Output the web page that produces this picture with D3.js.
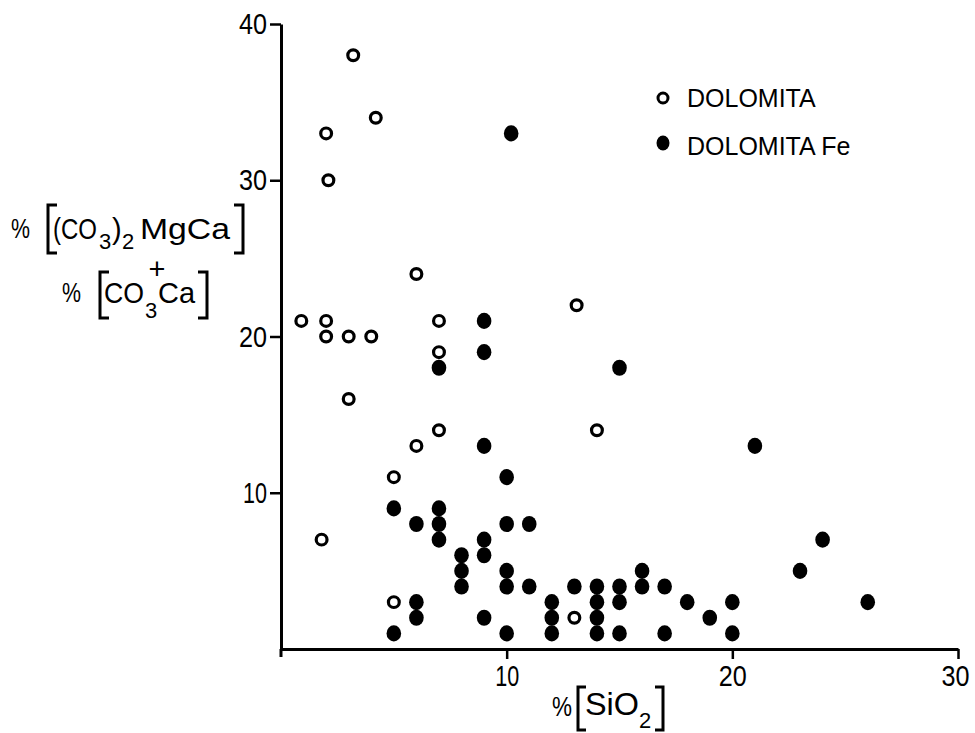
<!DOCTYPE html>
<html>
<head>
<meta charset="utf-8">
<script src="https://cdn.jsdelivr.net/npm/d3@7"></script>
<style>
  body { margin: 0; background: #fff; }
  text { font-family: "Liberation Sans", "DejaVu Sans", sans-serif; fill: #000; }
  .axis text { font-family: "Liberation Sans", sans-serif; font-size: 30px; }
  .axis path, .axis line { stroke: #000; }
</style>
</head>
<body>
<svg id="chart"></svg>
<script>
// % SiO2 vs % carbonate
let dolomita = [
    [3.2, 38], [4.2, 34], [2, 33], [2.1, 30], [6, 24], [13.1, 22],
    [0.9, 21], [2, 21], [7, 21], [2, 20], [3, 20], [4, 20], [7, 19],
    [3, 16], [7, 14], [14, 14], [6, 13], [5, 11], [1.8, 7], [5, 3], [13, 2]
];
let dolomitaFe = [
    [10.2, 33], [9, 21], [9, 19], [7, 18], [15, 18], [9, 13], [21, 13], [10, 11],
    [5, 9], [7, 9], [6, 8], [7, 8], [10, 8], [11, 8], [7, 7], [9, 7], [24, 7],
    [8, 6], [9, 6], [8, 5], [10, 5], [16, 5], [23, 5],
    [8, 4], [10, 4], [11, 4], [13, 4], [14, 4], [15, 4], [16, 4], [17, 4],
    [6, 3], [12, 3], [14, 3], [15, 3], [18, 3], [20, 3], [26, 3],
    [6, 2], [9, 2], [12, 2], [14, 2], [19, 2],
    [5, 1], [10, 1], [12, 1], [14, 1], [15, 1], [17, 1], [20, 1]
];
let xTicks = [10, 20, 30],
    yTicks = [10, 20, 30, 40];
let legendItems = ['DOLOMITA', 'DOLOMITA Fe'];

let width = 975,
    height = 733;

let svg = d3.select('#chart')
    .attr('width', width)
    .attr('height', height);

let x = d3.scaleLinear().domain([0, 30]).range([281, 958]),
    y = d3.scaleLinear().domain([0, 40]).range([649, 24]);

// Axes
svg.append('g')
    .attr('class', 'axis')
    .attr('transform', 'translate(0,' + y(0) + ')')
    .call(d3.axisBottom(x).tickValues(xTicks).tickSize(10).tickSizeOuter(0).tickPadding(6))
    .selectAll('.tick text')
    .attr('dx', (d) => d === 30 ? -3 : 0);

svg.append('g')
    .attr('class', 'axis')
    .attr('transform', 'translate(' + x(0) + ',0)')
    .call(d3.axisLeft(y).tickValues(yTicks).tickSize(11).tickSizeOuter(0).tickPadding(3));

svg.selectAll('.axis path.domain').attr('stroke-width', 3);
svg.selectAll('.axis line').attr('stroke-width', 2.5);
// the lettering is narrow, squeeze the tick labels a bit
svg.selectAll('.axis .tick text')
    .attr('fill', '#000')
    .attr('textLength', (d) => d === 10 ? 24 : 28)
    .attr('lengthAdjust', 'spacingAndGlyphs');

// little stub of the y axis below the origin
svg.append('line')
    .attr('x1', x(0)).attr('x2', x(0))
    .attr('y1', y(0)).attr('y2', y(0) + 8)
    .attr('stroke', '#000').attr('stroke-width', 3);

// Points
svg.append('g')
    .selectAll('circle')
    .data(dolomita)
    .enter().append('circle')
    .attr('cx', (d) => x(d[0]))
    .attr('cy', (d) => y(d[1]))
    .attr('r', 5.4)
    .attr('fill', '#fff')
    .attr('stroke', '#000')
    .attr('stroke-width', 3.2);

svg.append('g')
    .selectAll('ellipse')
    .data(dolomitaFe)
    .enter().append('ellipse')
    .attr('cx', (d) => x(d[0]))
    .attr('cy', (d) => y(d[1]))
    .attr('rx', 7.3)
    .attr('ry', 8.1)
    .attr('fill', '#000');

// Legend
let legend = svg.append('g');
legend.append('circle')
    .attr('cx', 663).attr('cy', 98).attr('r', 5)
    .attr('fill', '#fff').attr('stroke', '#000').attr('stroke-width', 3);
legend.append('ellipse')
    .attr('cx', 663).attr('cy', 143).attr('rx', 6.5).attr('ry', 7.5)
    .attr('fill', '#000');
legend.selectAll('text')
    .data(legendItems)
    .enter().append('text')
    .attr('x', 687)
    .attr('y', (d, i) => 107 + i * 48)
    .attr('font-size', 25)
    .text((d) => d);

// Axis titles, set piece by piece like the hand lettering
function piece(txt, px, py, size, len) {
    let t = svg.append('text')
        .attr('x', px).attr('y', py)
        .attr('font-size', size)
        .text(txt);
    if (len) t.attr('textLength', len).attr('lengthAdjust', 'spacingAndGlyphs');
    return t;
}
function bracket(x0, x1, y0, y1) {
    svg.append('path')
        .attr('d', 'M' + x1 + ',' + y0 + 'H' + x0 + 'V' + y1 + 'H' + x1)
        .attr('fill', 'none').attr('stroke', '#000').attr('stroke-width', 3);
}

// y title, line 1
piece('%', 11, 238, 27, 19);
bracket(48, 57, 205, 253);
piece('(CO', 53, 239, 29, 44);
piece('3', 99, 249, 22);
piece(')', 112, 239, 29);
piece('2', 122, 249, 22);
piece('MgCa', 140, 239, 29, 90);
bracket(243, 234, 205, 253);
// plus
piece('+', 157, 279, 29).attr('text-anchor', 'middle');
// y title, line 2
piece('%', 62, 302, 27, 19);
bracket(100, 109, 272, 318);
piece('CO', 104, 303, 29, 40);
piece('3', 145, 318, 22);
piece('Ca', 158, 303, 29, 37);
bracket(207, 198, 272, 318);

// x title
piece('%', 552, 716, 27, 20);
bracket(578, 586, 687, 730);
piece('SiO', 585, 715, 31, 54);
piece('2', 639, 728, 22);
bracket(663, 655, 687, 730);
</script>
</body>
</html>
